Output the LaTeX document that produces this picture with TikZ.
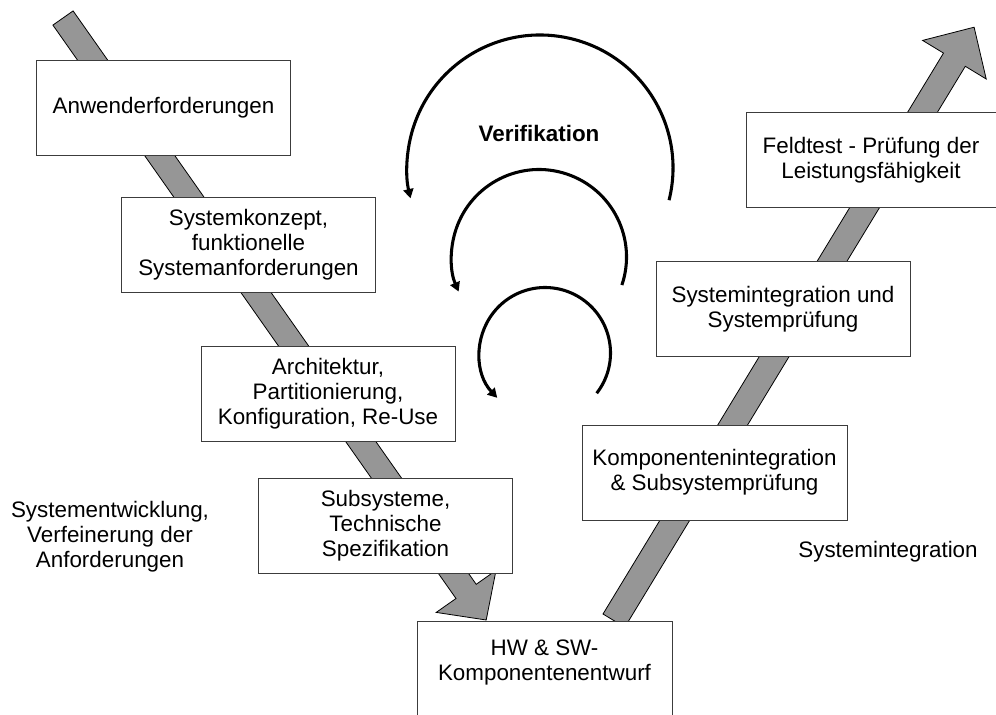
\documentclass[tikz,border=0pt]{standalone}
\usepackage{fontspec}
\setmainfont{Liberation Sans}
\usetikzlibrary{arrows.meta}
\definecolor{shaftgray}{RGB}{150,150,150}
\definecolor{frame}{RGB}{60,60,60}
\begin{document}
\begin{tikzpicture}[x=0.75pt,y=-0.75pt,
  txt/.style={align=center, font=\fontsize{16.8}{18.75}\selectfont},
  box/.style={txt, draw=frame, line width=0.75pt, fill=white, inner sep=0pt,
              minimum width=190.5pt, minimum height=71.25pt},
  vbar/.style={draw=black, line width=0.6pt, fill=shaftgray, line join=miter},
  verif/.style={line width=2.3pt, -{Triangle[length=7pt,width=7.5pt]}}]
\path[use as bounding box] (0,0) rectangle (996,714);
\clip (0,0) rectangle (996,714);

% descending branch: development
\draw[vbar] (73.1,10.9) -- (476.2,584.3) -- (496.0,570.4) -- (486.2,620.0)
  -- (436.2,612.4) -- (456.0,598.5) -- (52.9,25.1) -- cycle;
% ascending branch: integration
\draw[vbar] (603.0,614.0) -- (943.5,53.1) -- (922.6,40.4) -- (974.1,27.2)
  -- (986.2,79.0) -- (965.3,66.3) -- (624.8,627.2) -- cycle;

% development steps
\node[box] (anw)  at (163.5,107.5) {Anwenderforderungen};
\node[box] (konz) at (248.5,245)   {Systemkonzept,\\funktionelle\\Systemanforderungen};
\node[box] (arch) at (328,393.5)   {Architektur,\\Partitionierung,\\Konfiguration, Re-Use};
\node[box] (sub)  at (385.5,525.5) {Subsysteme,\\Technische\\Spezifikation};

% bottom of the V
\node[box, minimum width=191.25pt, minimum height=90pt, anchor=north] (hw) at (544.5,621) {};
\node[txt] (hwtxt) at (544.5,662) {HW \& SW-\\Komponentenentwurf};

% integration steps
\node[box, minimum width=198.75pt] (komp) at (714.5,472.5) {Komponentenintegration\\\& Subsystemprüfung};
\node[box] (sint) at (783,309) {Systemintegration und\\Systemprüfung};
\node[box, minimum width=187.5pt] (feld) at (871,160) {Feldtest - Prüfung der\\Leistungsfähigkeit};

% side captions
\node[txt] (dev)   at (110,537) {Systementwicklung,\\Verfeinerung der\\Anforderungen};
\node[txt] (integ) at (888,552) {Systemintegration};

% verification loops
\node[txt, font=\fontsize{16.8}{18.75}\selectfont\bfseries] (vlabel) at (539,133) {Verifikation};
\draw[verif] (540,168) ++(14:133) arc[start angle=14, end angle=-193.2, radius=133];
\draw[verif] (539,257) ++(18.7:87.5) arc[start angle=18.7, end angle=-203.3, radius=87.5];
\draw[verif] (545,353) ++(37.9:65.5) arc[start angle=37.9, end angle=-223.2, radius=65.5];
\end{tikzpicture}
\end{document}
